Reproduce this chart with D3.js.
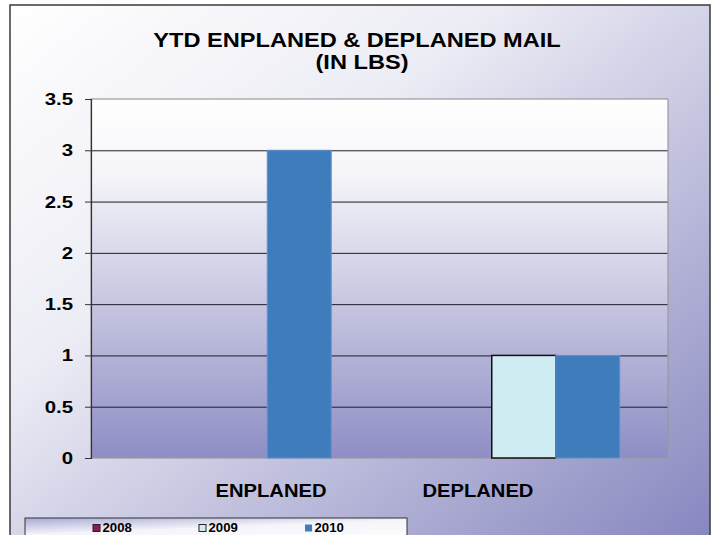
<!DOCTYPE html>
<html>
<head>
<meta charset="utf-8">
<script src="https://cdn.jsdelivr.net/npm/d3@7"></script>
<style>
  body { margin: 0; background: #fff; }
  text { font-family: "Liberation Sans", Arial, sans-serif; font-weight: bold; fill: #000; }
</style>
</head>
<body>
<svg id="chart" width="712" height="535"></svg>
<script>
// data
var categories = ["ENPLANED", "DEPLANED"];
var seriesNames = ["2008", "2009", "2010"];
var values2008 = [0, 0];
var values2009 = [0, 1];
var values2010 = [3, 1];
var yTicks = [0, 0.5, 1, 1.5, 2, 2.5, 3, 3.5];
var titleLines = ["YTD ENPLANED & DEPLANED MAIL", "(IN LBS)"];

var colors = {"2008": "#8b1c56", "2009": "#d0ecf3", "2010": "#3f7cbc"};
var strokes = {"2008": "#222", "2009": "#111", "2010": "#5f93d2"};

var svg = d3.select("#chart");
var defs = svg.append("defs");

var bgGrad = defs.append("linearGradient").attr("id", "bgGrad")
    .attr("x1", 0).attr("y1", 0).attr("x2", 1).attr("y2", 1);
bgGrad.append("stop").attr("offset", "0%").attr("stop-color", "#ffffff");
bgGrad.append("stop").attr("offset", "35%").attr("stop-color", "#ececf5");
bgGrad.append("stop").attr("offset", "100%").attr("stop-color", "#8585bf");

var plotGrad = defs.append("linearGradient").attr("id", "plotGrad")
    .attr("x1", 0).attr("y1", 0).attr("x2", 0).attr("y2", 1);
plotGrad.append("stop").attr("offset", "0%").attr("stop-color", "#ffffff");
plotGrad.append("stop").attr("offset", "20%").attr("stop-color", "#f6f6fa");
plotGrad.append("stop").attr("offset", "100%").attr("stop-color", "#8e8ec5");

var legGrad = defs.append("linearGradient").attr("id", "legGrad")
    .attr("x1", 0).attr("y1", 0).attr("x2", 0.5).attr("y2", 1);
legGrad.append("stop").attr("offset", "0%").attr("stop-color", "#a9a9d5");
legGrad.append("stop").attr("offset", "45%").attr("stop-color", "#f4f4fa");
legGrad.append("stop").attr("offset", "100%").attr("stop-color", "#ffffff");

// outer frame
svg.append("rect")
    .attr("x", 10).attr("y", 5).attr("width", 700).attr("height", 545)
    .attr("fill", "url(#bgGrad)")
    .attr("stroke", "#3a3a3a").attr("stroke-width", 1.5);

// stretched text helper
function stretchText(g, str, x, y, size, sx, anchor) {
    return g.append("text")
        .attr("transform", "translate(" + x + "," + y + ") scale(" + sx + ",1)")
        .attr("text-anchor", anchor || "middle")
        .style("font-size", size + "px")
        .text(str);
}

stretchText(svg, titleLines[0], 357, 47, 20, 1.18);
stretchText(svg, titleLines[1], 362, 69, 20, 1.18);

var margin = {left: 91, top: 99, right: 668, bottom: 458};
var w = margin.right - margin.left;
var h = margin.bottom - margin.top;

var plot = svg.append("g").attr("transform", "translate(" + margin.left + "," + margin.top + ")");

var y = d3.scaleLinear().domain([0, 3.5]).range([h, 0]);
var x0 = d3.scaleBand().domain(categories).range([0, w])
    .paddingInner(0.3345).paddingOuter(0.3345 / 2);
var x1 = d3.scaleBand().domain(seriesNames).range([0, x0.bandwidth()]);

plot.append("rect").attr("width", w).attr("height", h).attr("fill", "url(#plotGrad)");

// gridlines
var grid = plot.append("g").attr("class", "grid")
    .call(d3.axisLeft(y).tickValues(yTicks.filter(function(t) { return t > 0 && t < 3.5; }))
        .tickSize(-w).tickFormat(""));
grid.select(".domain").remove();
grid.selectAll("line").attr("stroke", "#1e1e2a").attr("stroke-width", 1);

// plot border
plot.append("rect").attr("width", w).attr("height", h)
    .attr("fill", "none").attr("stroke", "#9a9a9a").attr("stroke-width", 1.2);

// bars
var rows = categories.map(function(c, i) {
    return {cat: c, vals: [
        {s: "2008", v: values2008[i]},
        {s: "2009", v: values2009[i]},
        {s: "2010", v: values2010[i]}
    ]};
});

plot.selectAll(".group").data(rows).enter().append("g")
    .attr("class", "group")
    .attr("transform", function(d) { return "translate(" + x0(d.cat) + ",0)"; })
    .selectAll("rect")
    .data(function(d) { return d.vals.filter(function(e) { return e.v > 0; }); })
    .enter().append("rect")
    .attr("x", function(d) { return x1(d.s); })
    .attr("y", function(d) { return y(d.v); })
    .attr("width", x1.bandwidth())
    .attr("height", function(d) { return y(0) - y(d.v); })
    .attr("fill", function(d) { return colors[d.s]; })
    .attr("stroke", function(d) { return strokes[d.s]; })
    .attr("stroke-width", function(d) { return d.s == "2009" ? 1.5 : 1; });

// y axis
var yAxis = plot.append("g").call(d3.axisLeft(y).tickValues(yTicks).tickSize(6).tickFormat(d3.format("")));
yAxis.select(".domain").attr("stroke", "#333").attr("stroke-width", 1.2);
yAxis.selectAll(".tick line").attr("stroke", "#333");
yAxis.selectAll(".tick text")
    .attr("x", -18 / 1.2)
    .attr("transform", "scale(1.2,1)")
    .style("font-size", "17px")
    .style("font-family", "'Liberation Sans', Arial, sans-serif")
    .attr("fill", "#000");

// category labels
var labelX = d3.scalePoint().domain(categories).range([0, w]).padding(0.894);
categories.forEach(function(c) {
    stretchText(plot, c, labelX(c) - 5, 497 - margin.top, 18, 1.12);
});

// legend
var legend = svg.append("g");
legend.append("rect")
    .attr("x", 25).attr("y", 518).attr("width", 382).attr("height", 30)
    .attr("fill", "url(#legGrad)")
    .attr("stroke", "#333").attr("stroke-width", 1);

var legX = d3.scalePoint().domain(seriesNames).range([93, 305]);
seriesNames.forEach(function(s) {
    legend.append("rect")
        .attr("x", legX(s)).attr("y", 524.5).attr("width", 7).attr("height", 7)
        .attr("fill", colors[s])
        .attr("stroke", s == "2010" ? "none" : "#222").attr("stroke-width", 1);
    stretchText(legend, s, legX(s) + 9.5, 532, 12, 1.1, "start");
});
</script>
</body>
</html>
